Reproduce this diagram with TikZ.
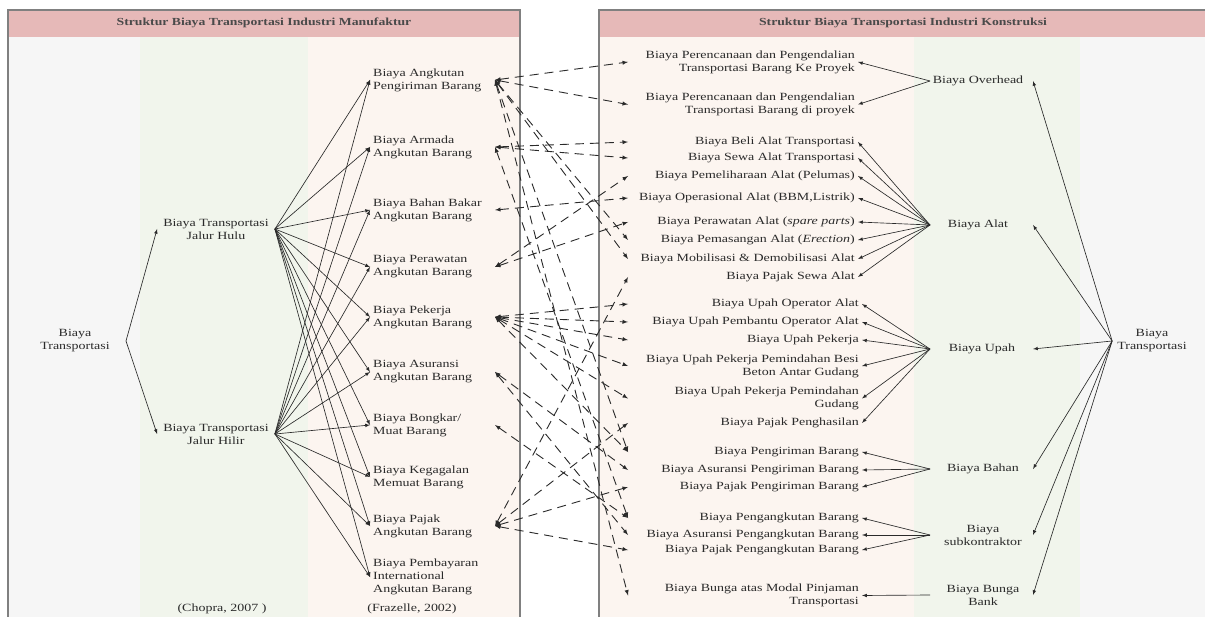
\documentclass[tikz,border=0pt]{standalone}
\usepackage{fontspec}
\setmainfont{Liberation Serif}[FakeStretch=1.27]
\usepackage{tikz}

\definecolor{headpink}{HTML}{E6B9B8}
\definecolor{colgray}{HTML}{F6F6F6}
\definecolor{colgreen}{HTML}{F1F5EC}
\definecolor{colpeach}{HTML}{FCF5F0}
\definecolor{framegray}{HTML}{808080}
\definecolor{txtgray}{HTML}{2A2A2A}

\tikzset{
  lbl/.style={inner xsep=3pt, inner ysep=1pt, text=txtgray, font=\fontsize{11}{13}\selectfont},
  mitem/.style={lbl, anchor=west, align=left},
  citem/.style={lbl, anchor=east, align=right},
  headtxt/.style={text=txtgray!85, font=\fontsize{10.8}{12}\selectfont\bfseries},
  arr/.style={-latex, line width=0.65pt, draw=txtgray},
  dsh/.style={latex-latex, line width=0.9pt, dash pattern=on 9pt off 6pt, draw=txtgray},
}

\begin{document}
\begin{tikzpicture}[x=1pt,y=-1pt]
    \useasboundingbox (0,0) rectangle (1205,617);
    \clip (0,0) rectangle (1205,617);
    \fill[white] (0,0) rectangle (1205,617);
    \fill[colgray] (8,10) rectangle (140,630);
    \fill[colgreen] (140,10) rectangle (308,630);
    \fill[colpeach] (308,10) rectangle (520,630);
    \fill[colpeach] (599,10) rectangle (914,630);
    \fill[colgreen] (914,10) rectangle (1080,630);
    \fill[colgray] (1080,10) rectangle (1215,630);
    \fill[headpink] (8,10) rectangle (520,37);
    \fill[headpink] (599,10) rectangle (1215,37);
    \draw[framegray, line width=1.5pt] (8,630) -- (8,10) -- (520,10) -- (520,630);
    \draw[framegray, line width=1.5pt] (1215,10) -- (599,10) -- (599,630);

    \node[headtxt] (hdL) at (264,23) {Struktur Biaya Transportasi Industri Manufaktur};
    \node[headtxt] (hdR) at (903,23) {Struktur Biaya Transportasi Industri Konstruksi};

    % manufaktur
    \node[lbl, align=center] (btL) at (75,341) {Biaya\\Transportasi};
    \node[lbl, align=center, inner xsep=6pt] (hulu) at (216,229) {Biaya Transportasi\\Jalur Hulu};
    \node[lbl, align=center, inner xsep=6pt] (hilir) at (216,434) {Biaya Transportasi\\Jalur Hilir};
    \coordinate (btLj) at (126,341);

    \node[mitem] (m1) at (370,80) {Biaya Angkutan\\Pengiriman Barang};
    \node[mitem] (m2) at (370,147) {Biaya Armada\\Angkutan Barang};
    \node[mitem] (m3) at (370,210) {Biaya Bahan Bakar\\Angkutan Barang};
    \node[mitem] (m4) at (370,267) {Biaya Perawatan\\Angkutan Barang};
    \node[mitem] (m5) at (370,317) {Biaya Pekerja\\Angkutan Barang};
    \node[mitem] (m6) at (370,372) {Biaya Asuransi\\Angkutan Barang};
    \node[mitem] (m7) at (370,425) {Biaya Bongkar/\\Muat Barang};
    \node[mitem] (m8) at (370,477) {Biaya Kegagalan\\Memuat Barang};
    \node[mitem] (m9) at (370,526) {Biaya Pajak\\Angkutan Barang};
    \node[mitem] (m10) at (370,577) {Biaya Pembayaran\\International\\Angkutan Barang};

    \node[lbl] (cite1) at (222,609) {(Chopra, 2007 )};
    \node[lbl] (cite2) at (412,609) {(Frazelle, 2002)};

    \draw[arr] (btLj) -- (hulu.west);
    \draw[arr] (btLj) -- (hilir.west);
    \foreach \s in {hulu,hilir}
    \foreach \t in {1,...,10}
    \draw[arr] (\s.east) -- (m\t.west);

    % konstruksi
    \node[citem] (c1) at (858,62) {Biaya Perencanaan dan Pengendalian\\Transportasi Barang Ke Proyek};
    \node[citem] (c2) at (858,104.5) {Biaya Perencanaan dan Pengendalian\\Transportasi Barang di proyek};
    \node[citem] (c3) at (858,142) {Biaya Beli Alat Transportasi};
    \node[citem] (c4) at (858,158) {Biaya Sewa Alat Transportasi};
    \node[citem] (c5) at (858,176) {Biaya Pemeliharaan Alat (Pelumas)};
    \node[citem] (c6) at (858,198) {Biaya Operasional Alat (BBM,Listrik)};
    \node[citem] (c7) at (858,222) {Biaya Perawatan Alat (\textit{spare parts})};
    \node[citem] (c8) at (858,240) {Biaya Pemasangan Alat (\textit{Erection})};
    \node[citem] (c9) at (858,259) {Biaya Mobilisasi \& Demobilisasi Alat};
    \node[citem] (c10) at (858,277) {Biaya Pajak Sewa Alat};
    \node[citem] (c11) at (862,304) {Biaya Upah Operator Alat};
    \node[citem] (c12) at (862,322) {Biaya Upah Pembantu Operator Alat};
    \node[citem] (c13) at (862,340) {Biaya Upah Pekerja};
    \node[citem] (c14) at (862,366) {Biaya Upah Pekerja Pemindahan Besi\\Beton Antar Gudang};
    \node[citem] (c15) at (862,398.5) {Biaya Upah Pekerja Pemindahan\\Gudang};
    \node[citem] (c16) at (862,423) {Biaya Pajak Penghasilan};
    \node[citem] (c17) at (862,452) {Biaya Pengiriman Barang};
    \node[citem] (c18) at (862,470) {Biaya Asuransi Pengiriman Barang};
    \node[citem] (c19) at (862,487) {Biaya Pajak Pengiriman Barang};
    \node[citem] (c20) at (862,518) {Biaya Pengangkutan Barang};
    \node[citem] (c21) at (862,535) {Biaya Asuransi Pengangkutan Barang};
    \node[citem] (c22) at (862,550) {Biaya Pajak Pengangkutan Barang};
    \node[citem] (c23) at (862,595.5) {Biaya Bunga atas Modal Pinjaman\\Transportasi};

    \node[lbl] (gOver) at (978,81) {Biaya Overhead};
    \node[lbl] (gAlat) at (978,225) {Biaya Alat};
    \node[lbl] (gUpah) at (982,349) {Biaya Upah};
    \node[lbl] (gBahan) at (983,469) {Biaya Bahan};
    \node[lbl, align=center] (gSub) at (983,535) {Biaya\\subkontraktor};
    \node[lbl, align=center] (gBunga) at (983,595) {Biaya Bunga\\Bank};
    \node[lbl, align=center, inner xsep=5pt] (btR) at (1152,341) {Biaya\\Transportasi};

    \coordinate (gin) at (930,0);
    \coordinate (gout) at (1033,0);
    \foreach \t in {1,2}
    \draw[arr] (gin |- gOver) -- (c\t.east);
    \foreach \t in {3,...,10}
    \draw[arr] (gin |- gAlat) -- (c\t.east);
    \foreach \t in {11,...,16}
    \draw[arr] (gin |- gUpah) -- (c\t.east);
    \foreach \t in {17,18,19}
    \draw[arr] (gin |- gBahan) -- (c\t.east);
    \foreach \t in {20,21,22}
    \draw[arr] (gin |- gSub) -- (c\t.east);
    \draw[arr] (gin |- gBunga) -- (c23.east);
    \foreach \g in {gOver,gAlat,gUpah,gBahan,gSub,gBunga}
    \draw[arr] (btR.west) -- (gout |- \g);

    % hubungan manufaktur - konstruksi
    \coordinate (mx) at (495,0);
    \coordinate (cx) at (628,0);
    \foreach \a/\b in {1/1,1/2,1/8,1/9,1/17,1/23,2/3,2/4,2/20,3/6,4/5,4/7,
        5/11,5/12,5/13,5/14,5/15,5/17,6/18,6/21,7/20,9/10,9/16,9/19,9/22}
    \draw[dsh] (mx |- m\a) -- (cx |- c\b);
\end{tikzpicture}
\end{document}
